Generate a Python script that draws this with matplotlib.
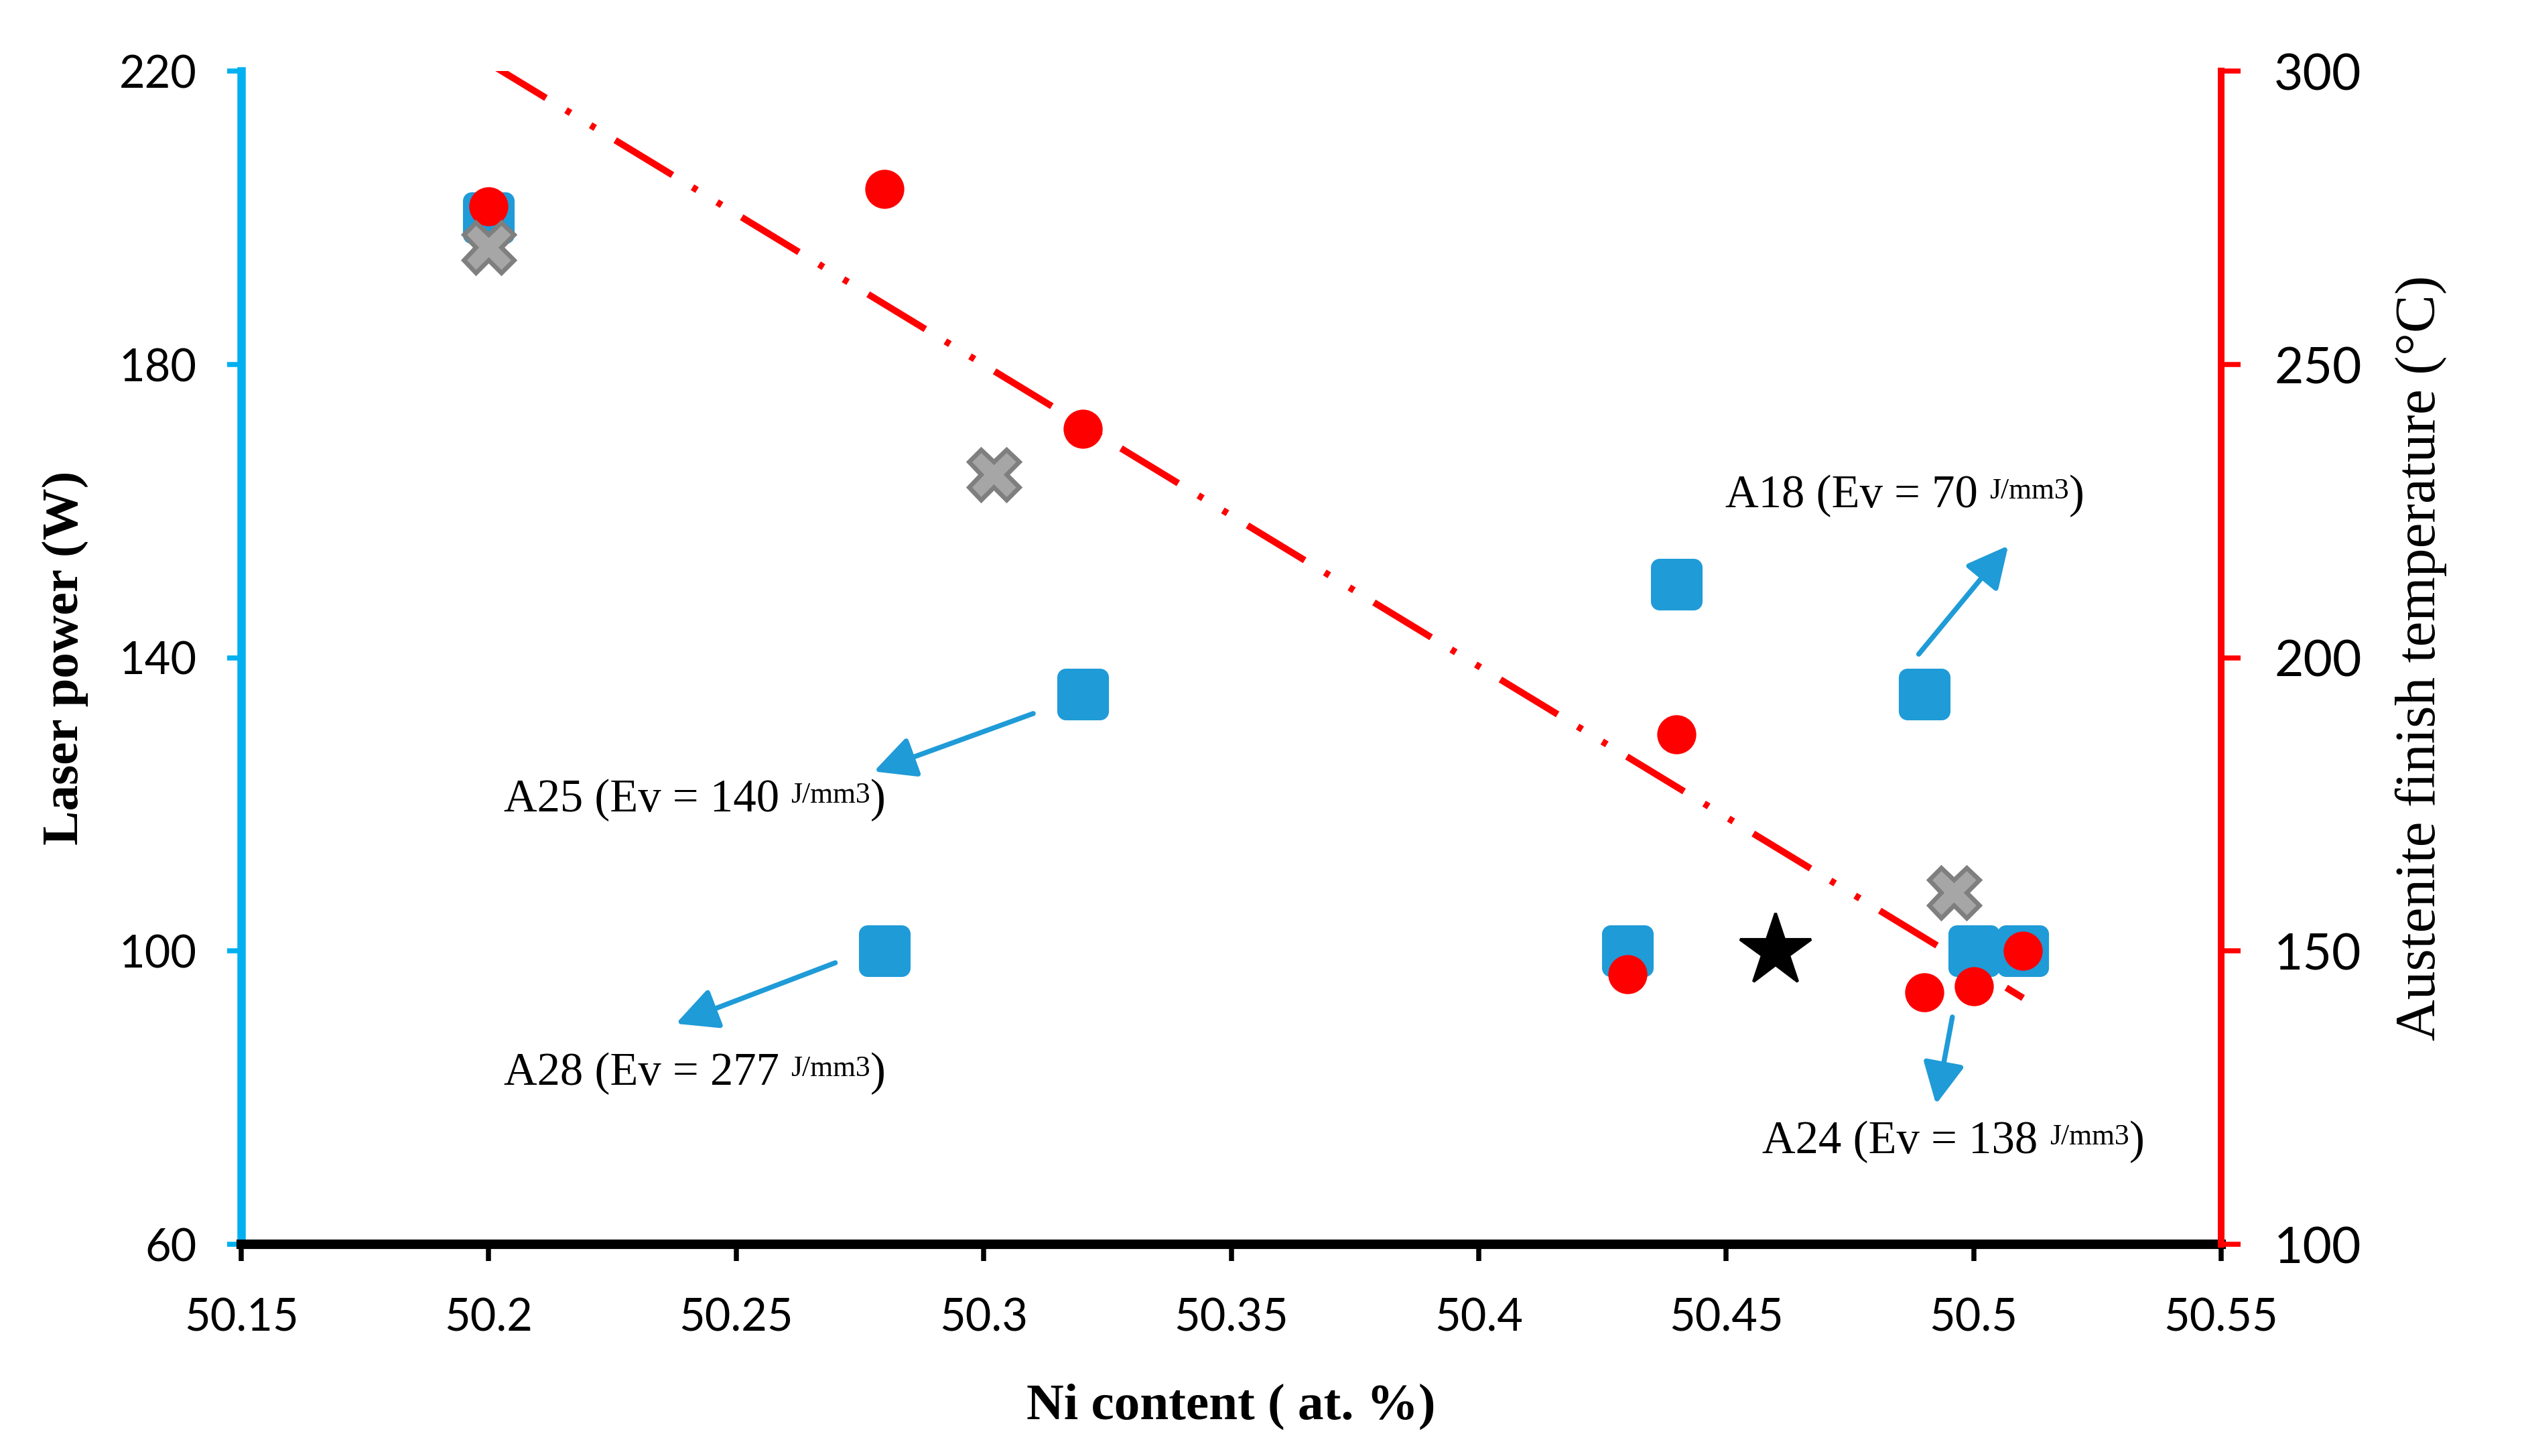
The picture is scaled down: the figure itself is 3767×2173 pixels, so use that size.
import numpy as np
import matplotlib
matplotlib.use("Agg")
import matplotlib.pyplot as plt
from matplotlib.path import Path

# ---------------- data ----------------
ni_power = [50.20, 50.28, 50.32, 50.43, 50.44, 50.49, 50.50, 50.51]
laser_power = [200, 100, 135, 100, 150, 135, 100, 100]

ni_af = [50.20, 50.28, 50.32, 50.43, 50.44, 50.49, 50.50, 50.51]
af_temp = [277, 280, 239, 146, 187, 143, 144, 150]

ni_cross = [50.20, 50.302, 50.496]
cross_power = [196, 165, 108]

ni_star = [50.46]
star_power = [100]

# linear trendline of Af (at its two ends)
trend_ni = [50.20, 50.51]
trend_af = [301.4, 142.0]

annot_labels = ["A25 (Ev = 140", "A28 (Ev = 277", "A18 (Ev = 70", "A24 (Ev = 138"]
annot_unit = "J/mm3"
annot_text_xy = [(50.203, 120.6), (50.203, 83.3), (50.4498, 162.1), (50.4573, 74.0)]
annot_arrow_from = [(50.310, 132.4), (50.270, 98.4), (50.4889, 140.5), (50.4957, 91.0)]
annot_arrow_to = [(50.2778, 124.5), (50.2378, 90.1), (50.507, 155.3), (50.4924, 79.1)]

x_ticks = [50.15, 50.2, 50.25, 50.3, 50.35, 50.4, 50.45, 50.5, 50.55]
x_ticklabels = ["50.15", "50.2", "50.25", "50.3", "50.35", "50.4", "50.45", "50.5", "50.55"]
left_ticks = [60, 100, 140, 180, 220]
right_ticks = [100, 150, 200, 250, 300]

# ---------------- style ----------------
SERIF = ["Liberation Serif", "DejaVu Serif"]
SANS = ["Lato", "DejaVu Sans"]
plt.rcParams["font.family"] = SERIF

BLUE_SPINE = "#00B0F0"
BLUE = "#1F9BD7"
RED = "#FF0000"


def rounded_square(r=0.16, n=8):
    pts = []
    h = 0.5 - r
    for (cx, cy, a0) in [(h, h, 0), (-h, h, 90), (-h, -h, 180), (h, -h, 270)]:
        ang = np.radians(np.linspace(a0, a0 + 90, n))
        pts += list(zip(cx + r * np.cos(ang), cy + r * np.sin(ang)))
    pts.append(pts[0])
    codes = [Path.MOVETO] + [Path.LINETO] * (len(pts) - 2) + [Path.CLOSEPOLY]
    return Path(pts, codes)


fig = plt.figure(figsize=(3767 / 300, 2173 / 300), dpi=300)
ax = fig.add_axes([0.0956, 0.1454, 0.880 - 0.0956, 0.951 - 0.1454])
ax2 = ax.twinx()

ax.set_xlim(50.15, 50.55)
ax.set_ylim(60, 220)
ax2.set_ylim(100, 300)

# spines
for s in ["top", "right"]:
    ax.spines[s].set_visible(False)
for s in ["top", "left", "bottom"]:
    ax2.spines[s].set_visible(False)
ax.spines["left"].set_color(BLUE_SPINE)
ax.spines["left"].set_linewidth(3.0)
ax.spines["bottom"].set_color("black")
ax.spines["bottom"].set_linewidth(3.4)
ax.spines["bottom"].set_zorder(3)
ax2.spines["right"].set_color(RED)
ax2.spines["right"].set_linewidth(2.4)

ax.set_xticks(x_ticks)
ax.set_xticklabels(x_ticklabels)
ax.set_yticks(left_ticks)
ax2.set_yticks(right_ticks)

ax.tick_params(axis="x", direction="out", length=6, width=1.8, color="black",
               labelsize=16, pad=13)
ax.tick_params(axis="y", direction="out", length=5, width=1.8, color=BLUE_SPINE,
               labelsize=16, pad=11)
ax2.tick_params(axis="y", direction="out", length=7, width=1.8, color=RED,
                labelsize=18, pad=12)
for lab in ax.get_xticklabels() + ax.get_yticklabels() + ax2.get_yticklabels():
    lab.set_fontfamily(SANS)

ax.set_xlabel("Ni content ( at. %)", fontsize=18.5, fontweight="bold", labelpad=16)
ax.set_ylabel("Laser power (W)", fontsize=18.5, fontweight="bold", labelpad=11)
ax2.set_ylabel("Austenite finish temperature (°C)", fontsize=20.5, labelpad=12)

# trend line
ax2.plot(trend_ni, trend_af, color=RED, lw=2.4,
         linestyle=(0, (10, 3.5, 0.8, 3.5, 0.8, 3.5)), zorder=1)

# marks (drawn in ax2 so stacking order is squares < circles < crosses < star)
ax2.plot(ni_power, laser_power, linestyle="none", marker=rounded_square(), ms=18,
         mfc=BLUE, mec=BLUE, mew=0.5, transform=ax.transData, zorder=2)
ax2.plot(ni_af, af_temp, linestyle="none", marker="o", ms=13,
         mfc=RED, mec=RED, zorder=3)
ax2.plot(ni_cross, cross_power, linestyle="none", marker="X", ms=18,
         mfc="#A6A6A6", mec="#7F7F7F", mew=1.6, transform=ax.transData, zorder=4)
ax2.plot(ni_star, star_power, linestyle="none", marker="*", ms=27,
         mfc="black", mec="black", transform=ax.transData, zorder=5)

# annotations
for txt, txy, a0, a1 in zip(annot_labels, annot_text_xy, annot_arrow_from, annot_arrow_to):
    t_main = ax.text(txy[0], txy[1], txt + " ", fontsize=16.5, ha="left", va="center")
    t_sup = ax.annotate(annot_unit, xy=(1.0, 0.93), xycoords=t_main,
                        fontsize=10.5, ha="left", va="top")
    ax.annotate(")", xy=(1.0, 0.0), xycoords=(t_sup, t_main),
                fontsize=16.5, ha="left", va="bottom")
    ax.annotate("", xy=a1, xytext=a0,
                arrowprops=dict(arrowstyle="-|>,head_length=0.9,head_width=0.45",
                                mutation_scale=14, lw=1.8, color=BLUE,
                                shrinkA=0, shrinkB=0))

fig.savefig("out.png", dpi=300, facecolor="white")
